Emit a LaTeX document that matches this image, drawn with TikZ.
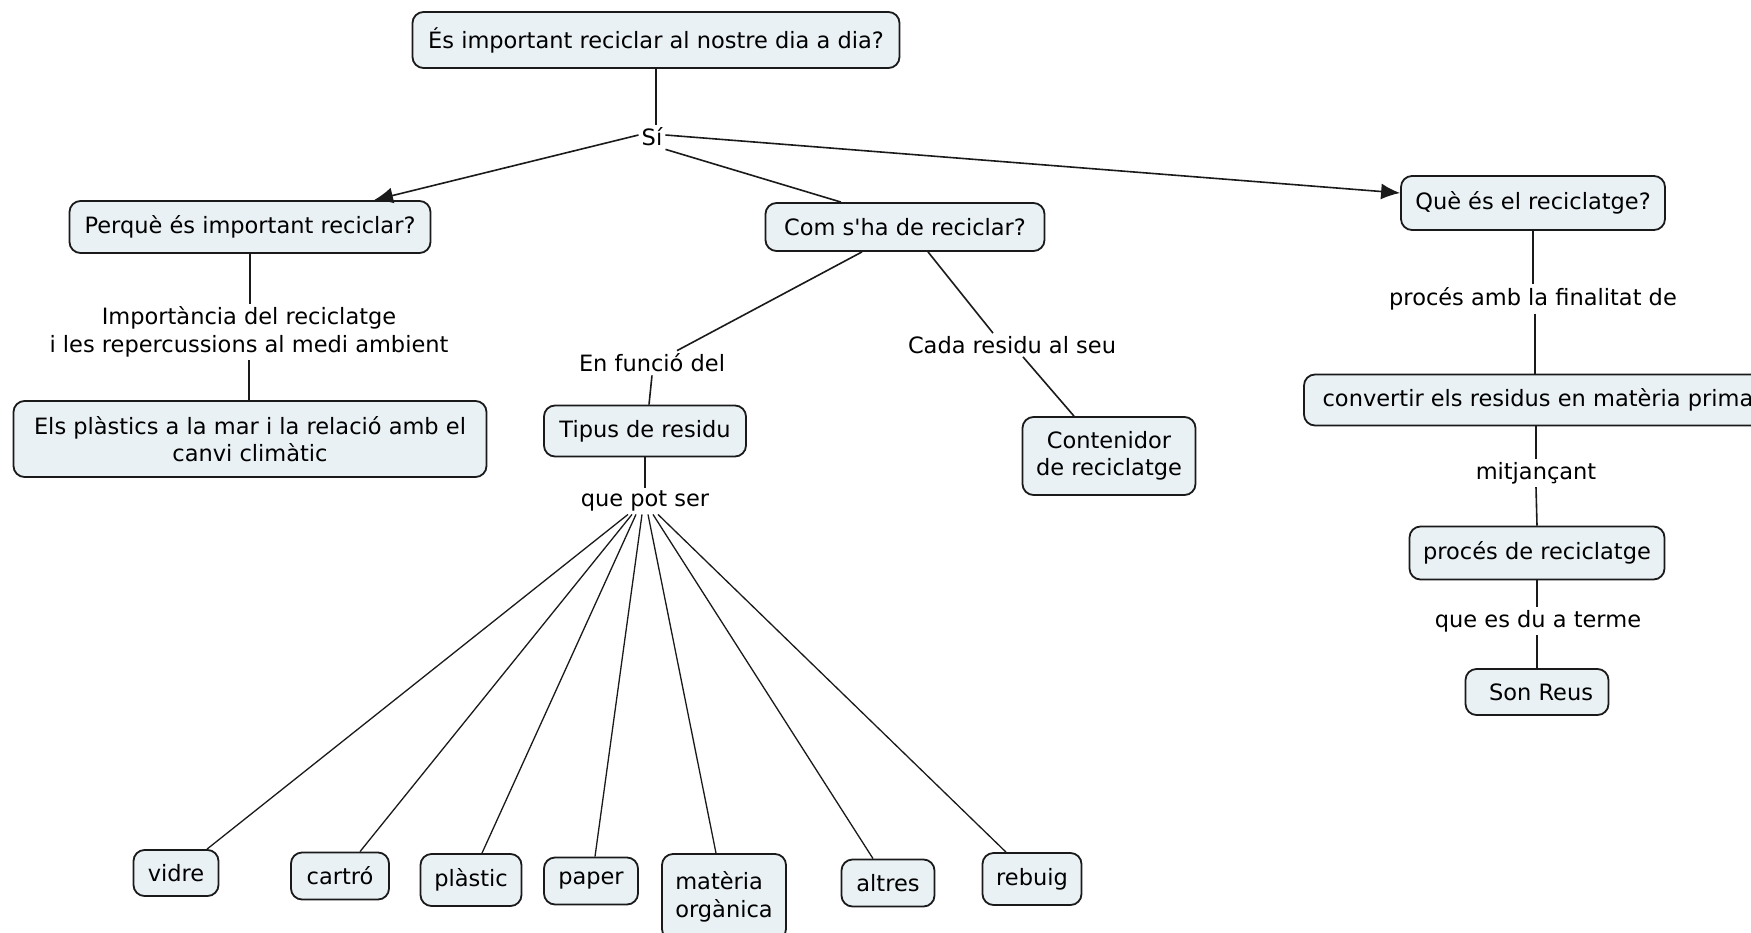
\documentclass[tikz,border=0pt]{standalone}
\usepackage{fontspec}
\setmainfont{DejaVu Sans}
\usetikzlibrary{arrows.meta}
\definecolor{cfill}{HTML}{E9F1F5}
\definecolor{cline}{HTML}{1A1A1A}
\newcommand{\straightapos}{{\XeTeXglyph\XeTeXcharglyph"0027\relax}}
\tikzset{
  concept/.style={draw=cline, fill=cfill, line width=1.8pt, rounded corners=11pt,
    align=center, inner sep=4pt, font=\fontsize{22.5}{27.5}\selectfont},
  lab/.style={inner sep=3pt, align=center, font=\fontsize{22.5}{27.5}\selectfont},
  conn/.style={draw=cline, line width=1.6pt},
  fan/.style={draw=cline, line width=1.3pt},
  arr/.style={conn, -{Latex[length=19pt,width=16pt]}}
}
\begin{document}
\begin{tikzpicture}[x=1pt,y=-1pt]
\clip (0,0) rectangle (1751,932);
\fill[white] (0,0) rectangle (1751,932);
% concepts
\node[concept, minimum width=487pt, minimum height=56pt] (top) at (656,40) {És important reciclar al nostre dia a dia?};
\node[concept, minimum width=361pt, minimum height=52pt] (perq) at (250,227) {Perquè és important reciclar?};
\node[concept, minimum width=279pt, minimum height=48pt] (com) at (905,227) {Com s\straightapos ha de reciclar?};
\node[concept, minimum width=264pt, minimum height=54pt] (que) at (1533,203) {Què és el reciclatge?};
\node[concept, minimum width=473pt, minimum height=76pt] (els) at (250,439) {Els plàstics a la mar i la relació amb el\\canvi climàtic};
\node[concept, minimum width=202pt, minimum height=51pt] (tipus) at (645,431) {Tipus de residu};
\node[concept, minimum width=173pt, minimum height=78pt] (cont) at (1109,456) {Contenidor\\de reciclatge};
\node[concept, minimum width=468pt, minimum height=51pt] (conv) at (1538,400) {convertir els residus en matèria prima};
\node[concept, minimum width=255pt, minimum height=53pt] (proc) at (1537,553) {procés de reciclatge};
\node[concept, minimum width=143pt, minimum height=46pt] (son) at (1537,692) {\hspace{8pt}Son Reus};
\node[concept, minimum width=85pt, minimum height=46pt] (vidre) at (176,873) {vidre};
\node[concept, minimum width=98pt, minimum height=47pt] (cartro) at (340,876) {cartró};
\node[concept, minimum width=101pt, minimum height=52pt] (plastic) at (471,880) {plàstic};
\node[concept, minimum width=94pt, minimum height=47pt] (paper) at (591,881) {paper};
\node[concept, minimum width=124pt, minimum height=86pt, align=left] (mat) at (724,897) {matèria\\orgànica};
\node[concept, minimum width=93pt, minimum height=47pt] (altres) at (888,883) {altres};
\node[concept, minimum width=99pt, minimum height=52pt] (rebuig) at (1032,879) {rebuig};
% linking phrases
\node[lab] (si) at (652,137) {Sí};
\node[lab] (imp) at (249,332) {Importància del reciclatge\\i les repercussions al medi ambient};
\node[lab] (enf) at (652,363) {En funció del};
\node[lab] (cada) at (1012,345) {Cada residu al seu};
\node[lab] (qps) at (645,501) {que pot ser};
\node[lab] (pafd) at (1533,299) {procés amb la finalitat de};
\node[lab] (mitj) at (1536,473) {mitjançant};
\node[lab] (qedt) at (1538,621) {que es du a terme};
% connectors
\draw[conn] (top.south) -- (top.south |- si.north);
\draw[arr] ([yshift=2pt]si.west) -- ([xshift=124pt]perq.north);
\draw[conn] (si.south east) -- ([xshift=-64pt]com.north);
\draw[arr] ([yshift=2pt]si.east) -- ([yshift=10pt]que.west);
\draw[conn] (perq.south) -- (perq.south |- imp.north);
\draw[conn] (imp.south) -- (imp.south |- els.north);
\draw[conn] ([xshift=-43pt]com.south) -- ([xshift=25pt]enf.north);
\draw[conn] (enf.south) -- ([xshift=4pt]tipus.north);
\draw[conn] ([xshift=23pt]com.south) -- ([xshift=-19pt]cada.north);
\draw[conn] ([xshift=11pt]cada.south) -- ([xshift=-35pt]cont.north);
\draw[conn] (tipus.south) -- (tipus.south |- qps.north);
\draw[fan] ([xshift=-17pt]qps.south) -- ([xshift=31pt]vidre.north);
\draw[fan] ([xshift=-13pt]qps.south) -- ([xshift=20pt]cartro.north);
\draw[fan] ([xshift=-9pt]qps.south) -- ([xshift=11pt]plastic.north);
\draw[fan] ([xshift=-3pt]qps.south) -- ([xshift=4pt]paper.north);
\draw[fan] ([xshift=3pt]qps.south) -- ([xshift=-8pt]mat.north);
\draw[fan] ([xshift=8pt]qps.south) -- ([xshift=-15pt]altres.north);
\draw[fan] ([xshift=13pt]qps.south) -- ([xshift=-26pt]rebuig.north);
\draw[conn] (que.south) -- (que.south |- pafd.north);
\draw[conn] ([xshift=2pt]pafd.south) -- ([xshift=-3pt]conv.north);
\draw[conn] ([xshift=-2pt]conv.south) -- (mitj.north);
\draw[conn] (mitj.south) -- (proc.north);
\draw[conn] (proc.south) -- (proc.south |- qedt.north);
\draw[conn] (son.north |- qedt.south) -- (son.north);
\end{tikzpicture}
\end{document}
